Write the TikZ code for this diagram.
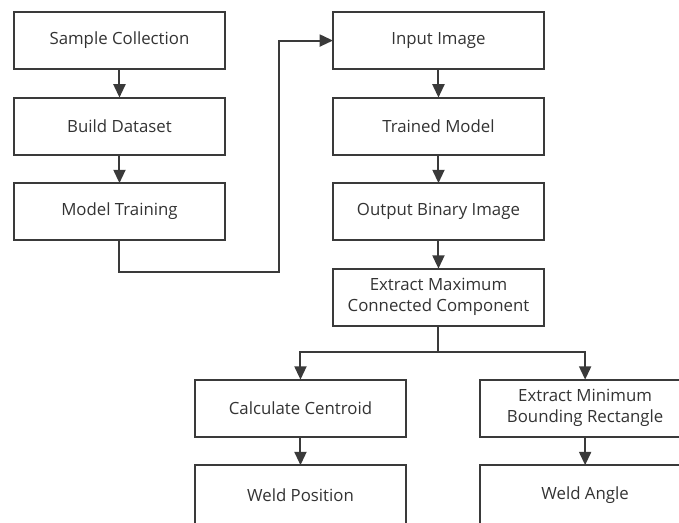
\documentclass[tikz,border=0pt]{standalone}
\usepackage{fontspec}
\setmainfont{Open Sans}
\usetikzlibrary{arrows.meta, positioning}
\definecolor{wdLine}{HTML}{3A3A3A}
\definecolor{wdText}{HTML}{333333}
\tikzset{
  wdbox/.style={rectangle, draw=wdLine, line width=1.5pt, fill=white,
    minimum height=42.75pt, minimum width=158.25pt, outer sep=0pt,
    align=center, font=\fontsize{12.6}{15.5}\selectfont, text=wdText},
  wdarrow/.style={-{Triangle[length=10pt,width=9pt]}, line width=1.5pt, wdLine}
}

\begin{document}
\begin{tikzpicture}[node distance=21.4pt]
        \path[use as bounding box, clip] (0,0) rectangle (509.25pt,-391.5pt);
        % training branch
        \node[wdbox] (sample) at (89.6pt,-30.4pt) {Sample Collection};
        \node[wdbox, below=of sample] (dataset) {Build Dataset};
        \node[wdbox, below=of dataset] (training) {Model Training};
        % inference branch
        \node[wdbox, right=81pt of sample] (input) {Input Image};
        \node[wdbox, below=of input] (trained) {Trained Model};
        \node[wdbox, below=of trained] (binary) {Output Binary Image};
        \node[wdbox, below=of binary] (maxcc) {Extract Maximum\\Connected Component};
        \node[wdbox, below=40.5pt of maxcc, xshift=-103.5pt] (centroid) {Calculate Centroid};
        \node[wdbox, below=40.5pt of maxcc, xshift=110pt] (minrect) {Extract Minimum\\Bounding Rectangle};
        \node[wdbox, minimum height=45pt, below=of centroid] (position) {Weld Position};
        \node[wdbox, minimum height=45pt, below=of minrect] (angle) {Weld Angle};
        \coordinate (turn) at (209.25pt,-204pt);
        \draw[wdarrow] (sample) -- (dataset);
        \draw[wdarrow] (dataset) -- (training);
        \draw[wdarrow] (training.south) |- (turn) |- (input.west);
        \draw[wdarrow] (input) -- (trained);
        \draw[wdarrow] (trained) -- (binary);
        \draw[wdarrow] (binary) -- (maxcc);
        \draw[wdLine, line width=1.5pt] (maxcc.south) -- ++(0,-19.5pt) coordinate (split);
        \draw[wdarrow] (split) -| (centroid.north);
        \draw[wdarrow] (split) -| (minrect.north);
        \draw[wdarrow] (centroid) -- (position);
        \draw[wdarrow] (minrect) -- (angle);
      \end{tikzpicture}
\end{document}
